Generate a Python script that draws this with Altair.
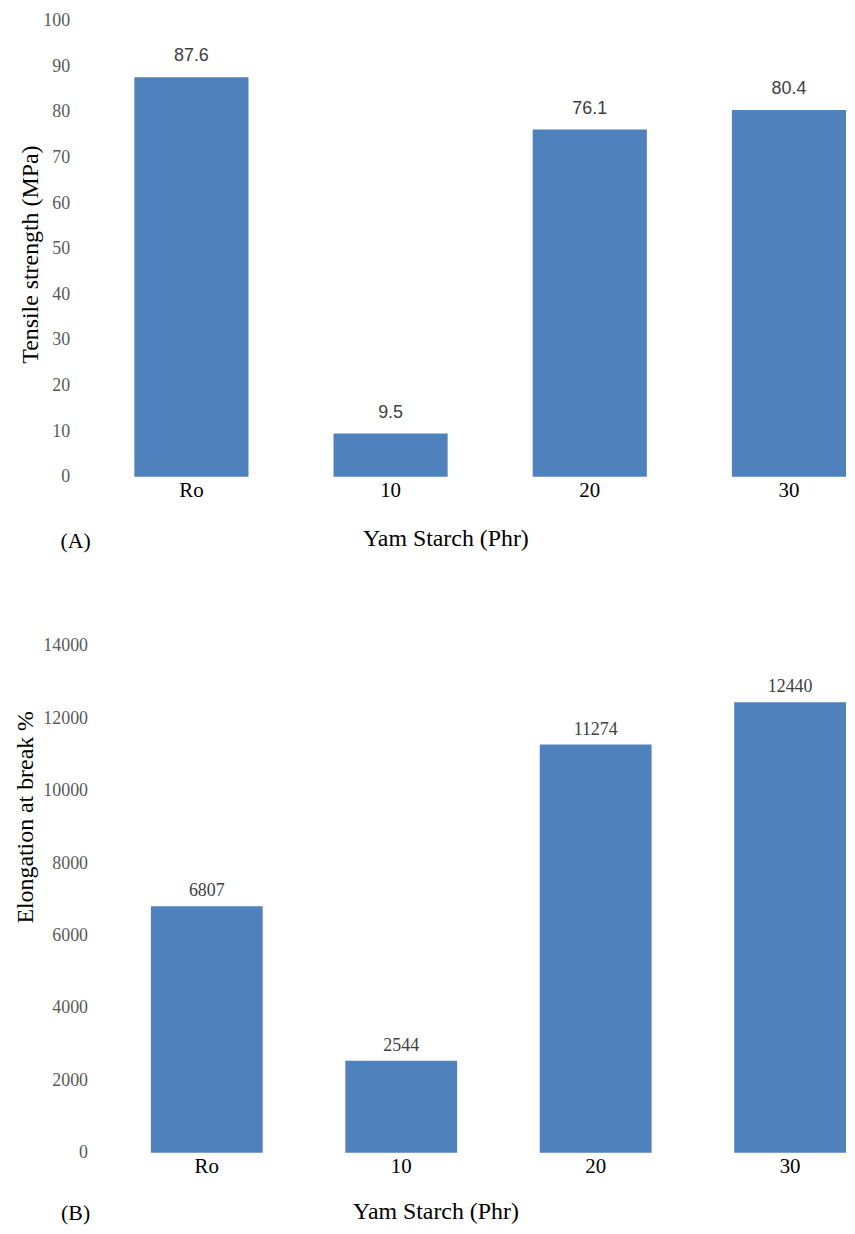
import altair as alt
import pandas as pd

# ---- data ----
categories = ["Ro", "10", "20", "30"]
tensile = [87.6, 9.5, 76.1, 80.4]
tensile_labels = ["87.6", "9.5", "76.1", "80.4"]
elongation = [6807, 2544, 11274, 12440]
elongation_labels = ["6807", "2544", "11274", "12440"]
tensile_ticks = [0, 10, 20, 30, 40, 50, 60, 70, 80, 90, 100]
elong_ticks = [0, 2000, 4000, 6000, 8000, 10000, 12000, 14000]
panel_labels = ["(A)", "(B)"]
x_title = "Yam Starch (Phr)"

BLUE = "#4F81BD"
SERIF = "Liberation Serif"
SANS = "Liberation Sans"
W = 756

df_a = pd.DataFrame({"cat": categories, "val": tensile, "lab": tensile_labels})
df_b = pd.DataFrame({"cat": categories, "val": elongation, "lab": elongation_labels})


def x_enc(pi, po, tx, ty):
    return alt.X(
        "cat:N", sort=categories,
        scale=alt.Scale(paddingInner=pi, paddingOuter=po, align=1),
        axis=alt.Axis(title=x_title, labelAngle=0, labelFont=SERIF, labelFontSize=21,
                      labelColor="#000000", labelPadding=3, domain=False, ticks=False,
                      tickSize=0, grid=False, titleFont=SERIF, titleFontSize=24,
                      titleFontWeight="normal", titleColor="#000000",
                      titleX=tx, titleY=ty, titleBaseline="middle"),
    )


def y_enc(title, domain, ticks, pad, tx, ty):
    return alt.Y(
        "val:Q", scale=alt.Scale(domain=domain, nice=False),
        axis=alt.Axis(title=title, values=ticks, format="d", labelFont=SERIF,
                      labelFontSize=18, labelColor="#595959", labelPadding=pad,
                      domain=False, ticks=False, tickSize=0, grid=False,
                      titleFont=SERIF, titleFontSize=24, titleFontWeight="normal",
                      titleColor="#000000", titleX=tx, titleY=ty,
                      titleBaseline="alphabetic"),
    )


# ---- panel A ----
xa = x_enc(0.427, 0.10, 443 - 90, 62)
ya = y_enc("Tensile strength (MPa)", [0, 100], tensile_ticks, 25, -57, 235)
bars_a = alt.Chart(df_a).mark_bar(color=BLUE).encode(x=xa, y=ya)
text_a = alt.Chart(df_a).mark_text(font=SANS, fontSize=18, color="#404040",
                                   baseline="middle", dy=-21).encode(
    x=alt.X("cat:N", sort=categories), y="val:Q", text="lab:N")
lab_a = alt.Chart(pd.DataFrame({"t": [panel_labels[0]]})).mark_text(
    font=SERIF, fontSize=22, color="#000000").encode(
    x=alt.value(-19), y=alt.value(524), text="t:N")
panel_a = alt.layer(bars_a, text_a, lab_a).properties(width=W, height=459)

# ---- panel B ----
xb = x_enc(0.425, 0.145, 433 - 90, 59)
yb = y_enc("Elongation at break %", [0, 14000], elong_ticks, 7, -62, 172)
bars_b = alt.Chart(df_b).mark_bar(color=BLUE).encode(x=xb, y=yb)
text_b = alt.Chart(df_b).mark_text(font=SERIF, fontSize=18, color="#404040",
                                   baseline="bottom", dy=-6).encode(
    x=alt.X("cat:N", sort=categories), y="val:Q", text="lab:N")
lab_b = alt.Chart(pd.DataFrame({"t": [panel_labels[1]]})).mark_text(
    font=SERIF, fontSize=22, color="#000000").encode(
    x=alt.value(-19), y=alt.value(571), text="t:N")
panel_b = alt.layer(bars_b, text_b, lab_b).properties(width=W, height=510)

chart = alt.vconcat(panel_a, panel_b, spacing=85).resolve_scale(
    x="independent", y="independent"
).properties(
    padding={"left": 6, "top": 0, "right": 0, "bottom": 0}
).configure_view(stroke=None)

chart.save("out.html", embed_options={"renderer": "svg", "actions": False})
